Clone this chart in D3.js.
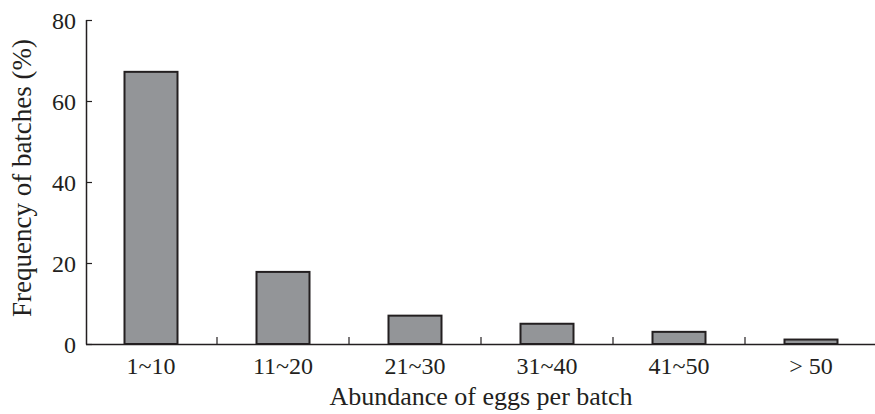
<!DOCTYPE html>
<html><head><meta charset="utf-8">
<script src="https://cdn.jsdelivr.net/npm/d3@7"></script>
<style>body{margin:0;background:#fff}svg{display:block}text{font-family:"Liberation Serif","Times New Roman",serif !important;fill:#231f20}</style>
</head><body><svg id="c" width="875" height="414"></svg>
<script>
const categories = ["1~10","11~20","21~30","31~40","41~50","> 50"];
const values = [67.2, 17.8, 7.0, 5.0, 3.0, 1.1];
const yTicks = [0,20,40,60,80];

const svg = d3.select("#c");
const xb = d3.scaleBand().domain(categories).range([85, 877]);
const y = d3.scaleLinear().domain([0,80]).range([344,20]);

// bars
svg.selectAll("rect.bar").data(values).enter().append("rect")
  .attr("x",(d,i)=>xb(categories[i]) + xb.bandwidth()/2 - 26.5)
  .attr("width",53)
  .attr("y",d=>y(d))
  .attr("height",d=>y(0)-y(d))
  .attr("fill","#939598").attr("stroke","#231f20").attr("stroke-width",2);

// y axis
const ya = svg.append("g").attr("transform","translate(86,0)")
  .call(d3.axisRight(y).tickValues(yTicks).tickSize(6).tickFormat(d3.format("d")));
ya.attr("font-family",null);
ya.select(".domain").attr("stroke","#231f20").attr("stroke-width",1.5).attr("d","M0.5,20V344.5");
ya.selectAll(".tick line").attr("stroke","#231f20").attr("stroke-width",1.2);
ya.selectAll(".tick text").attr("x",-10).attr("text-anchor","end").attr("font-size",24).attr("dy","0.35em");

// x axis
const xa = svg.append("g").attr("transform","translate(0,344.5)")
  .call(d3.axisBottom(xb).tickSize(0));
xa.attr("font-family",null);
xa.select(".domain").attr("stroke","#231f20").attr("stroke-width",1.5).attr("d","M86,0H875");
xa.selectAll(".tick text").attr("font-size",24).attr("dy","0").attr("y",29);
// separator ticks between categories
svg.append("g").selectAll("line").data(categories.slice(1)).enter().append("line")
  .attr("x1",d=>xb(d)).attr("x2",d=>xb(d)).attr("y1",344).attr("y2",337)
  .attr("stroke","#231f20").attr("stroke-width",1.2);

svg.append("text").attr("x",481).attr("y",405).attr("text-anchor","middle").attr("font-size",26)
  .text("Abundance of eggs per batch");
svg.append("text").attr("transform","translate(31,178) rotate(-90)").attr("text-anchor","middle").attr("font-size",27)
  .text("Frequency of batches (%)");
</script></body></html>
